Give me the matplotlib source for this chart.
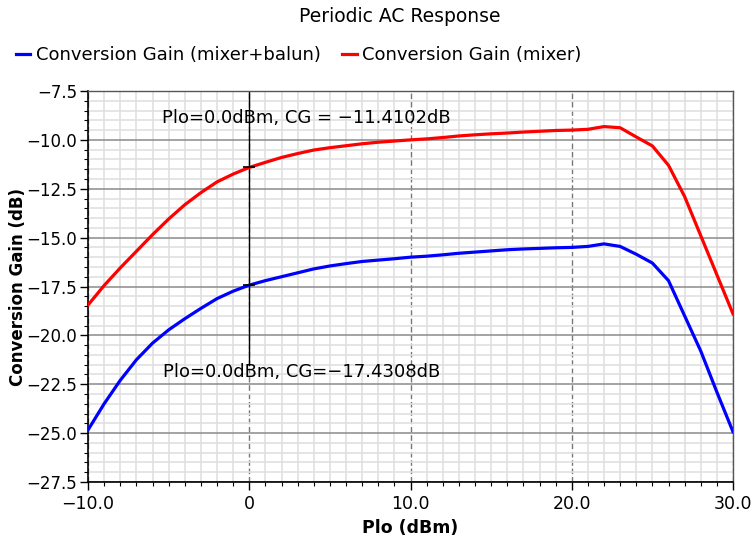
import numpy as np
import matplotlib
matplotlib.use("Agg")
import matplotlib.pyplot as plt
from matplotlib.ticker import MultipleLocator, FuncFormatter

# Plo sweep (dBm)
plo = np.arange(-10, 31, 1)

# Conversion gain, mixer only (dB)
cg_mixer = [-18.45, -17.45, -16.55, -15.7, -14.85, -14.05, -13.32, -12.7, -12.15, -11.75,
            -11.41, -11.15, -10.9, -10.7, -10.52, -10.4, -10.3, -10.2, -10.12, -10.06,
            -10.0, -9.95, -9.88, -9.8, -9.74, -9.69, -9.65, -9.6, -9.56, -9.52,
            -9.5, -9.46, -9.32, -9.38, -9.85, -10.31, -11.3, -12.9, -14.9, -16.9, -18.9]

# Conversion gain, mixer + balun (dB)
cg_balun = [-24.84, -23.5, -22.3, -21.25, -20.4, -19.72, -19.15, -18.62, -18.12, -17.74,
            -17.43, -17.2, -17.0, -16.8, -16.6, -16.45, -16.33, -16.22, -16.15, -16.08,
            -16.0, -15.95, -15.88, -15.8, -15.74, -15.68, -15.62, -15.58, -15.55, -15.52,
            -15.5, -15.45, -15.32, -15.45, -15.85, -16.3, -17.2, -19.0, -20.8, -22.9, -24.93]

marker_x = 0.0
marker_red = -11.4102
marker_blue = -17.4308

plt.rcParams['font.family'] = ['DejaVu Sans']

fig = plt.figure(figsize=(7.53, 5.39), dpi=100)
ax = fig.add_axes([88/753, 1-482/539, (733-88)/753, (482-91)/539])

# grid
ax.xaxis.set_major_locator(MultipleLocator(10))
ax.xaxis.set_minor_locator(MultipleLocator(1))
ax.yaxis.set_major_locator(MultipleLocator(2.5))
ax.yaxis.set_minor_locator(MultipleLocator(0.5))
ax.grid(which='minor', color='#e0e0e0', linewidth=1.2, zorder=0)
ax.grid(which='major', axis='y', color='#8a8a8a', linewidth=1.1, zorder=0.5)
ax.grid(which='major', axis='x', color='#777777', linewidth=1.0, linestyle=(0, (4, 2)), zorder=0.5)
ax.set_axisbelow(True)

ax.plot(plo, cg_balun, color='#0000ff', linewidth=2.3, label='Conversion Gain (mixer+balun)', zorder=3)
ax.plot(plo, cg_mixer, color='#ff0000', linewidth=2.3, label='Conversion Gain (mixer)', zorder=3)

# marker line
ax.plot([marker_x, marker_x], [-7.5, -21.5], color='black', linewidth=1.0, zorder=2)
ax.plot([marker_x, marker_x], [marker_red, marker_blue], color='black', linestyle='none',
        marker='_', markersize=9, markeredgewidth=1.2, zorder=4)
ax.text(-5.41, -8.88, 'Plo=0.0dBm, CG = \u221211.4102dB', fontsize=13, va='center', ha='left', zorder=5)
ax.text(-5.35, -21.87, 'Plo=0.0dBm, CG=\u221217.4308dB', fontsize=13, va='center', ha='left', zorder=5)

ax.set_xlim(-10, 30)
ax.set_ylim(-27.5, -7.5)

def fmt(v, pos):
    if abs(v) < 1e-9:
        return '0'
    return f'{v:.1f}'.replace('-', '\u2212')

ax.xaxis.set_major_formatter(FuncFormatter(fmt))
ax.yaxis.set_major_formatter(FuncFormatter(fmt))
ax.tick_params(which='major', length=6, width=1, labelsize=12.5, color='black')
ax.tick_params(which='minor', length=3, width=0.8, color='black')
ax.tick_params(axis='y', which='major', labelsize=12, pad=2)

for s in ['left', 'bottom']:
    ax.spines[s].set_color('black')
    ax.spines[s].set_linewidth(1.2)
for s in ['top', 'right']:
    ax.spines[s].set_color('#555555')
    ax.spines[s].set_linewidth(1.0)

ax.set_xlabel('Plo (dBm)', fontsize=12.5, fontweight='bold', labelpad=4)
ax.set_ylabel('Conversion Gain (dB)', fontsize=12, fontweight='bold')
ax.yaxis.set_label_coords((27 - 88) / 645, 0.5)

fig.text(400/753, 1-17/539, 'Periodic AC Response', fontsize=13.5, ha='center', va='center')
fig.legend(loc='center left', bbox_to_anchor=(16/753, 1-55/539), ncol=2, frameon=False,
           handlelength=0.8, handletextpad=0.3, columnspacing=1.2, fontsize=13,
           borderaxespad=0, borderpad=0)

fig.savefig('out.png', dpi=100)
